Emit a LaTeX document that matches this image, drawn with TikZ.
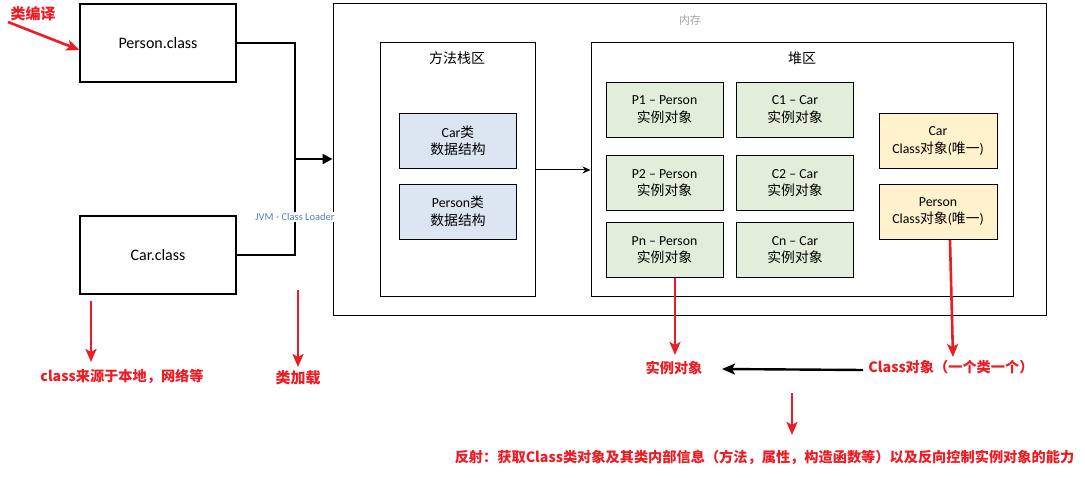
\documentclass[tikz,border=0pt]{standalone}
\usepackage{fontspec}
\setmainfont{Carlito}
\newfontfamily\cjk{Noto Sans CJK SC}
\usetikzlibrary{arrows.meta}
\newcommand{\zh}[1]{{\cjk #1}}
\definecolor{rd}{HTML}{ED1C24}
\definecolor{gfill}{HTML}{E2EED9}
\definecolor{bfill}{HTML}{DCE6F2}
\definecolor{yfill}{HTML}{FFF2CC}
\definecolor{jvmblue}{HTML}{4F81BD}
\tikzset{
  classbox/.style={draw=black, line width=1.2pt, fill=white, minimum width=156pt, minimum height=78pt, font=\fontsize{16}{18}\selectfont, inner sep=0pt},
  areabox/.style={draw=black, line width=1pt, inner sep=0pt},
  ibox/.style={draw=black, line width=0.9pt, minimum width=117pt, minimum height=55pt, align=center, font=\fontsize{13.8}{17.5}\selectfont, inner sep=0pt},
  gbox/.style={ibox, fill=gfill},
  bbox/.style={ibox, fill=bfill},
  ybox/.style={ibox, fill=yfill},
  redarr/.style={draw=rd, line width=2.6pt, -{Stealth[length=13pt,width=11pt,inset=3pt]}},
  redtxt/.style={text=rd, font=\cjk\bfseries\fontsize{14.2}{16}\selectfont, inner sep=0pt},
  conn/.style={draw=black, line width=1.2pt},
}
\begin{document}
\begin{tikzpicture}[x=1pt,y=-1pt]
\useasboundingbox (0,0) rectangle (1085,478);
% class files
\node[classbox] (pc) at (158,43) {Person.class};
\node[classbox] (cc) at (158,255) {Car.class};
% memory
\node[areabox, minimum width=713pt, minimum height=312pt] (mem) at (689.5,160) {};
\node[text=black!35, font=\cjk\fontsize{11}{12}\selectfont] (memt) at (690,20) {内存};
% method area
\node[areabox, minimum width=155pt, minimum height=254pt] (ms) at (457.5,170) {};
\node[font=\cjk\fontsize{14}{16}\selectfont] (mst) at (457,58) {方法栈区};
\node[bbox] (carc) at (458,141) {Car\zh{类}\\\zh{数据结构}};
\node[bbox] (perc) at (458,211.5) {Person\zh{类}\\\zh{数据结构}};
% heap
\node[areabox, minimum width=422pt, minimum height=254pt] (heap) at (802,170) {};
\node[font=\cjk\fontsize{14}{16}\selectfont] (heapt) at (802,58) {堆区};
\node[gbox] (p1) at (664.5,109.5) {P1 -- Person\\\zh{实例对象}};
\node[gbox] (p2) at (664.5,183) {P2 -- Person\\\zh{实例对象}};
\node[gbox] (pn) at (664.5,250) {Pn -- Person\\\zh{实例对象}};
\node[gbox] (c1) at (795,109.5) {C1 -- Car\\\zh{实例对象}};
\node[gbox] (c2) at (795,183) {C2 -- Car\\\zh{实例对象}};
\node[gbox] (cn) at (795,250) {Cn -- Car\\\zh{实例对象}};
\node[ybox, minimum width=118pt] (ccar) at (938,141) {Car\\Class\zh{对象}(\zh{唯一})};
\node[ybox, minimum width=118pt] (cper) at (938,211.5) {Person\\Class\zh{对象}(\zh{唯一})};
% class loader connectors
\node[text=jvmblue, fill=white, font=\fontsize{10.5}{12}\selectfont, inner sep=1pt] (jvm) at (295,217) {JVM - Class Loader};
\coordinate (j) at (295,159);
\draw[conn] (pc.east) -| (j);
\draw[conn] (j) -- (jvm.north -| j);
\draw[conn] (cc.east) -| (jvm.south -| j);
\draw[draw=black, line width=2.4pt, -{Triangle[length=10pt,width=10pt]}] (j) -- (j -| mem.west);
\draw[draw=black, line width=1pt, -{Stealth[length=8pt,width=7pt]}] (ms.east |- 0,170) -- (heap.west |- 0,170);
% red annotations
\node[redtxt, font=\cjk\bfseries\fontsize{15}{16}\selectfont] (tcomp) at (33,14) {类编译};
\coordinate (a1s) at (8,22);
\draw[redarr] (a1s) -- (pc.west |- 0,50);
\node[redtxt] (tsrc) at (122,376) {class来源于本地，网络等};
\coordinate (a2s) at (91,301);
\coordinate (a2e) at (91,362);
\draw[redarr] (a2s) -- (a2e);
\node[redtxt, font=\cjk\bfseries\fontsize{15}{16}\selectfont] (tload) at (298,378) {类加载};
\coordinate (a3s) at (298,290);
\coordinate (a3e) at (298,367);
\draw[redarr] (a3s) -- (a3e);
\node[redtxt] (tinst) at (674,368) {实例对象};
\coordinate (a5e) at (675,355);
\draw[redarr] (pn.south -| a5e) -- (a5e);
\node[redtxt] (tcls) at (951,367) {Class对象（一个类一个）};
\coordinate (a6s) at (950,240);
\coordinate (a6e) at (953,357);
\draw[redarr] (a6s) -- (a6e);
\coordinate (bks) at (863,370);
\coordinate (bke) at (722,369);
\draw[draw=black, line width=2.4pt, -{Stealth[length=13pt,width=11pt,inset=3pt]}] (bks) -- (bke);
\coordinate (a4s) at (792,393);
\coordinate (a4e) at (792,435);
\draw[redarr] (a4s) -- (a4e);
\node[redtxt] (trefl) at (764.5,457) {反射：获取Class类对象及其类内部信息（方法，属性，构造函数等）以及反向控制实例对象的能力};
\end{tikzpicture}
\end{document}
